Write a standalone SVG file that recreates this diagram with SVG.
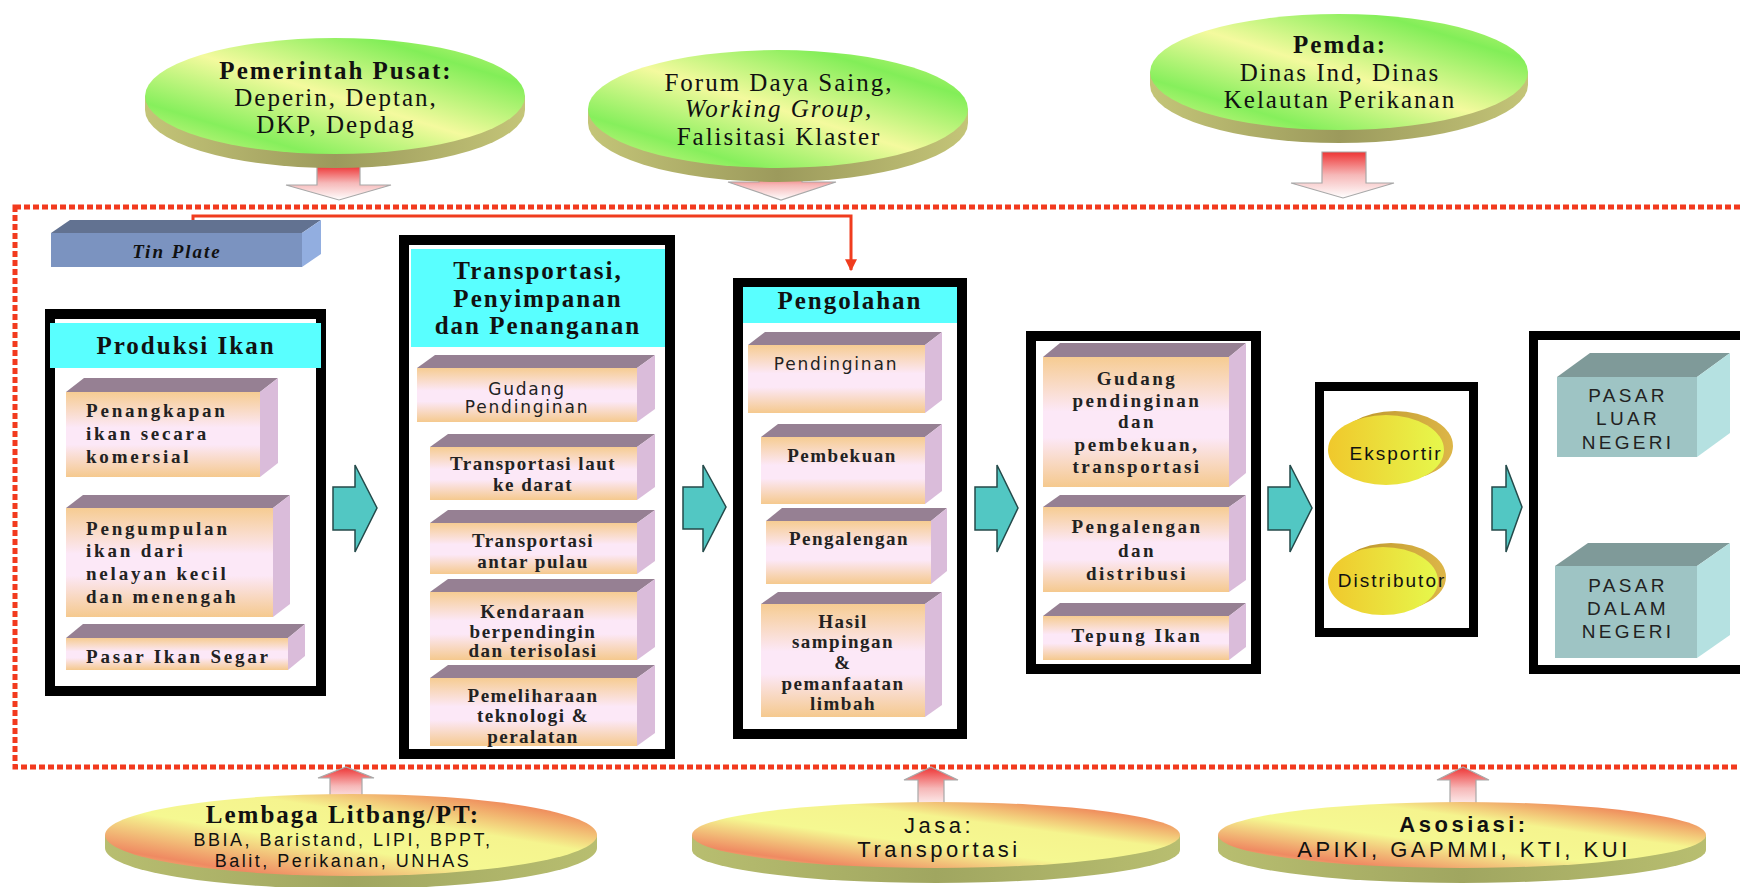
<svg xmlns="http://www.w3.org/2000/svg" width="1740" height="887" viewBox="0 0 1740 887">
<defs>
<linearGradient id="gTop" x1="0" y1="1" x2="1" y2="0">
<stop offset="0" stop-color="#E6F890"/><stop offset="0.22" stop-color="#86EF5C"/><stop offset="0.5" stop-color="#F4FA9E"/><stop offset="0.8" stop-color="#82EE58"/><stop offset="1" stop-color="#D8F684"/>
</linearGradient>
<linearGradient id="gBot" x1="0" y1="1" x2="1" y2="0">
<stop offset="0" stop-color="#F5F48E"/><stop offset="0.17" stop-color="#EF8A62"/><stop offset="0.42" stop-color="#F5F891"/><stop offset="0.64" stop-color="#F5F48E"/><stop offset="0.9" stop-color="#EE7652"/><stop offset="1" stop-color="#F0A070"/>
</linearGradient>
<linearGradient id="gRim" x1="0" y1="0" x2="1" y2="0">
<stop offset="0" stop-color="#C4C578"/><stop offset="0.5" stop-color="#9C9A5C"/><stop offset="1" stop-color="#C4C578"/>
</linearGradient>
<linearGradient id="gRim2" x1="0" y1="0" x2="1" y2="0">
<stop offset="0" stop-color="#B8BE70"/><stop offset="0.5" stop-color="#A0A660"/><stop offset="1" stop-color="#B8BE70"/>
</linearGradient>
<linearGradient id="gBox" x1="0" y1="0" x2="0" y2="1">
<stop offset="0" stop-color="#F6CC92"/><stop offset="0.42" stop-color="#FCE8F7"/><stop offset="0.62" stop-color="#FCE8F7"/><stop offset="1" stop-color="#F5C98E"/>
</linearGradient>
<linearGradient id="gDown" x1="0" y1="0" x2="0" y2="1">
<stop offset="0" stop-color="#EE3434"/><stop offset="0.5" stop-color="#F6B8B8"/><stop offset="1" stop-color="#FFFFFF"/>
</linearGradient>
<linearGradient id="gUp" x1="0" y1="1" x2="0" y2="0">
<stop offset="0" stop-color="#FFFFFF"/><stop offset="0.5" stop-color="#F6B8B8"/><stop offset="1" stop-color="#EE3434"/>
</linearGradient>
<linearGradient id="gYel" x1="0" y1="0" x2="1" y2="0">
<stop offset="0" stop-color="#F0C82C"/><stop offset="1" stop-color="#E6F84C"/>
</linearGradient>
<linearGradient id="gGold" x1="0" y1="0" x2="1" y2="0">
<stop offset="0" stop-color="#B8922A"/><stop offset="1" stop-color="#DDB648"/>
</linearGradient>
<marker id="redHead" viewBox="0 0 10 10" refX="9" refY="5" markerWidth="4" markerHeight="4" orient="auto" markerUnits="strokeWidth">
<path d="M0,0 L10,5 L0,10 Z" fill="#F03C1E"/>
</marker>
</defs>
<style>
.frame{fill:#FFFFFF;stroke:#000000}
.hdrbg{fill:#59FFFF}
.front{fill:url(#gBox)}
.top{fill:#968093}
.side{fill:#DABCDA}
.pfront{fill:#9EC4C4}
.ptop{fill:#7F9A99}
.pside{fill:#B5E1E1}
.teal{fill:#52C7C3;stroke:#244A4A;stroke-width:1.5;stroke-linejoin:miter}
.pink{stroke:#A8A8A8;stroke-width:1.2}
.ser{font-family:"Liberation Serif","Times New Roman",serif;font-size:25px;letter-spacing:2px;fill:#111;text-anchor:middle}
.b{font-weight:bold}
.bx{font-family:"Liberation Serif","Times New Roman",serif;font-weight:bold;font-size:19px;letter-spacing:1.5px;fill:#222;text-anchor:middle}
.bxw{letter-spacing:2.5px}
.bxl{font-family:"Liberation Serif","Times New Roman",serif;font-weight:bold;font-size:19px;letter-spacing:2.8px;fill:#222}
.sbx{font-family:"DejaVu Sans",Verdana,sans-serif;font-size:17px;letter-spacing:1.8px;fill:#222;text-anchor:middle}
.pas{font-family:"Liberation Sans",Arial,sans-serif;font-size:19px;letter-spacing:3.3px;fill:#222;text-anchor:middle}
.ell{font-family:"Liberation Sans",Arial,sans-serif;font-size:19px;letter-spacing:2px;fill:#111;text-anchor:middle}
.bot{font-family:"Liberation Sans",Arial,sans-serif;font-size:22px;letter-spacing:3.5px;fill:#111;text-anchor:middle}
.bot2{font-family:"Liberation Sans",Arial,sans-serif;font-size:18px;letter-spacing:2.5px;fill:#111;text-anchor:middle}
.tin{font-family:"Liberation Serif","Times New Roman",serif;font-weight:bold;font-style:italic;font-size:19px;letter-spacing:2px;fill:#111;text-anchor:middle}
</style>
<rect x="0" y="0" width="1740" height="887" fill="#FFFFFF"/>

<g id="connectors">
<rect x="15" y="207" width="1760" height="560" fill="none" stroke="#F23A1E" stroke-width="5" stroke-dasharray="6 3"/>
<path d="M193,221 V216 H851 V270" fill="none" stroke="#F03C1E" stroke-width="3" marker-end="url(#redHead)"/>
<path class="pink" fill="url(#gDown)" d="M317,166 H360 V185 H391 L339,200 L286,185 H317 Z"/>
<path class="pink" fill="url(#gDown)" d="M759,170 H802 V182 H836 L781,200 L728,182 H759 Z"/>
<path class="pink" fill="url(#gDown)" d="M1322,152 H1366 V183 H1394 L1343,198 L1291,183 H1322 Z"/>
<path class="pink" fill="url(#gUp)" d="M330,805 V778 H318 L346,767 L374,778 H362 V805 Z"/>
<path class="pink" fill="url(#gUp)" d="M918,810 V780 H904 L931,767 L958,780 H944 V810 Z"/>
<path class="pink" fill="url(#gUp)" d="M1450,810 V780 H1437 L1463,767 L1489,780 H1476 V810 Z"/>
<path class="teal" d="M333,487 H355 V465 L377,508 L355,552 V530 H333 Z"/>
<path class="teal" d="M683,487 H703 V465 L726,507 L703,552 V529 H683 Z"/>
<path class="teal" d="M975,487 H997 V465 L1018,508 L997,552 V530 H975 Z"/>
<path class="teal" d="M1268,487 H1290 V465 L1312,508 L1290,552 V530 H1268 Z"/>
<path class="teal" d="M1492,487 H1506 V465 L1522,507 L1506,552 V530 H1492 Z"/>
</g>

<g id="pemerintah">
<path fill="url(#gRim)" d="M145,96 V110 A190,58 0 0 0 525,110 V96 Z"/>
<ellipse cx="335" cy="96" rx="190" ry="58" fill="url(#gTop)"/>
<text class="ser b" x="336" y="79">Pemerintah Pusat:</text>
<text class="ser" x="336" y="106">Deperin, Deptan,</text>
<text class="ser" x="336" y="133">DKP, Depdag</text>
</g>

<g id="forum">
<path fill="url(#gRim)" d="M588,109 V123 A190,59 0 0 0 968,123 V109 Z"/>
<ellipse cx="778" cy="109" rx="190" ry="59" fill="url(#gTop)"/>
<text class="ser" x="779" y="91">Forum Daya Saing,</text>
<text class="ser" x="779" y="117" font-style="italic">Working Group,</text>
<text class="ser" x="779" y="145">Falisitasi Klaster</text>
</g>

<g id="pemda">
<path fill="url(#gRim)" d="M1150,72 V85 A189,58 0 0 0 1528,85 V72 Z"/>
<ellipse cx="1339" cy="72" rx="189" ry="58" fill="url(#gTop)"/>
<text class="ser b" x="1340" y="53">Pemda:</text>
<text class="ser" x="1340" y="81">Dinas Ind, Dinas</text>
<text class="ser" x="1340" y="108">Kelautan Perikanan</text>
</g>

<g id="tinplate">
<polygon points="51,233 70,220 321,220 302,233" fill="#627291"/>
<polygon points="302,233 321,220 321,254 302,267" fill="#92AEE0"/>
<rect x="51" y="233" width="251" height="34" fill="#7B93C0"/>
<text class="tin" x="177" y="258">Tin Plate</text>
</g>

<g id="produksi">
<rect class="frame" x="50" y="314" width="271" height="377" stroke-width="10"/>
<rect class="hdrbg" x="50" y="323" width="271" height="45"/>
<text class="ser b" x="186" y="354">Produksi Ikan</text>
<polygon class="top" points="66,392 84,378 278,378 260,392"/>
<polygon class="side" points="260,392 278,378 278,463 260,477"/>
<rect class="front" x="66" y="392" width="194" height="85"/>
<text class="bxl" x="86" y="417">Penangkapan</text>
<text class="bxl" x="86" y="440">ikan secara</text>
<text class="bxl" x="86" y="463">komersial</text>
<polygon class="top" points="66,508 83,495 290,495 273,508"/>
<polygon class="side" points="273,508 290,495 290,604 273,617"/>
<rect class="front" x="66" y="508" width="207" height="109"/>
<text class="bxl" x="86" y="535">Pengumpulan</text>
<text class="bxl" x="86" y="557">ikan dari</text>
<text class="bxl" x="86" y="580">nelayan kecil</text>
<text class="bxl" x="86" y="603">dan menengah</text>
<polygon class="top" points="66,638 83,624 305,624 288,638"/>
<polygon class="side" points="288,638 305,624 305,656 288,670"/>
<rect class="front" x="66" y="638" width="222" height="32"/>
<text class="bxl" x="86" y="663">Pasar Ikan Segar</text>
</g>

<g id="transportasi">
<rect class="frame" x="404" y="240" width="266" height="514" stroke-width="10"/>
<rect class="hdrbg" x="411" y="249" width="254" height="98"/>
<text class="ser b" x="538" y="279">Transportasi,</text>
<text class="ser b" x="538" y="307">Penyimpanan</text>
<text class="ser b" x="538" y="334">dan Penanganan</text>
<polygon class="top" points="417,368 435,355 655,355 637,368"/>
<polygon class="side" points="637,368 655,355 655,409 637,422"/>
<rect class="front" x="417" y="368" width="220" height="54"/>
<text class="sbx" x="527" y="395">Gudang</text>
<text class="sbx" x="527" y="413">Pendinginan</text>
<polygon class="top" points="430,447 448,434 655,434 637,447"/>
<polygon class="side" points="637,447 655,434 655,487 637,500"/>
<rect class="front" x="430" y="447" width="207" height="53"/>
<text class="bx" x="533" y="470">Transportasi laut</text>
<text class="bx" x="533" y="491">ke darat</text>
<polygon class="top" points="430,523 448,510 655,510 637,523"/>
<polygon class="side" points="637,523 655,510 655,561 637,574"/>
<rect class="front" x="430" y="523" width="207" height="51"/>
<text class="bx" x="533" y="547">Transportasi</text>
<text class="bx" x="533" y="568">antar pulau</text>
<polygon class="top" points="430,592 448,579 655,579 637,592"/>
<polygon class="side" points="637,592 655,579 655,647 637,660"/>
<rect class="front" x="430" y="592" width="207" height="68"/>
<text class="bx" x="533" y="618">Kendaraan</text>
<text class="bx" x="533" y="638">berpendingin</text>
<text class="bx" x="533" y="657">dan terisolasi</text>
<polygon class="top" points="430,678 448,665 655,665 637,678"/>
<polygon class="side" points="637,678 655,665 655,733 637,746"/>
<rect class="front" x="430" y="678" width="207" height="68"/>
<text class="bx" x="533" y="702">Pemeliharaan</text>
<text class="bx" x="533" y="722">teknologi &amp;</text>
<text class="bx" x="533" y="743">peralatan</text>
</g>

<g id="pengolahan">
<rect class="frame" x="738" y="283" width="224" height="451" stroke-width="10"/>
<rect class="hdrbg" x="743" y="287" width="214" height="36"/>
<text class="ser b" x="850" y="309">Pengolahan</text>
<polygon class="top" points="748,345 765,332 942,332 925,345"/>
<polygon class="side" points="925,345 942,332 942,400 925,413"/>
<rect class="front" x="748" y="345" width="177" height="68"/>
<text class="sbx" x="836" y="370">Pendinginan</text>
<polygon class="top" points="761,437 778,424 942,424 925,437"/>
<polygon class="side" points="925,437 942,424 942,491 925,504"/>
<rect class="front" x="761" y="437" width="164" height="67"/>
<text class="bx" x="842" y="462">Pembekuan</text>
<polygon class="top" points="766,521 782,508 947,508 931,521"/>
<polygon class="side" points="931,521 947,508 947,571 931,584"/>
<rect class="front" x="766" y="521" width="165" height="63"/>
<text class="bx" x="849" y="545">Pengalengan</text>
<polygon class="top" points="761,604 778,592 942,592 925,604"/>
<polygon class="side" points="925,604 942,592 942,705 925,717"/>
<rect class="front" x="761" y="604" width="164" height="113"/>
<text class="bx" x="843" y="628">Hasil</text>
<text class="bx" x="843" y="648">sampingan</text>
<text class="bx" x="843" y="669">&amp;</text>
<text class="bx" x="843" y="690">pemanfaatan</text>
<text class="bx" x="843" y="710">limbah</text>
</g>

<g id="distribusi">
<rect class="frame" x="1031" y="336" width="225" height="333" stroke-width="10"/>
<polygon class="top" points="1043,357 1060,343 1246,343 1229,357"/>
<polygon class="side" points="1229,357 1246,343 1246,473 1229,487"/>
<rect class="front" x="1043" y="357" width="186" height="130"/>
<text class="bx bxw" x="1137" y="385">Gudang</text>
<text class="bx bxw" x="1137" y="407">pendinginan</text>
<text class="bx bxw" x="1137" y="428">dan</text>
<text class="bx bxw" x="1137" y="451">pembekuan,</text>
<text class="bx bxw" x="1137" y="473">transportasi</text>
<polygon class="top" points="1043,507 1060,495 1246,495 1229,507"/>
<polygon class="side" points="1229,507 1246,495 1246,580 1229,592"/>
<rect class="front" x="1043" y="507" width="186" height="85"/>
<text class="bx bxw" x="1137" y="533">Pengalengan</text>
<text class="bx bxw" x="1137" y="557">dan</text>
<text class="bx bxw" x="1137" y="580">distribusi</text>
<polygon class="top" points="1043,616 1060,603 1246,603 1229,616"/>
<polygon class="side" points="1229,616 1246,603 1246,647 1229,660"/>
<rect class="front" x="1043" y="616" width="186" height="44"/>
<text class="bx bxw" x="1137" y="642">Tepung Ikan</text>
</g>

<g id="pelaku">
<rect class="frame" x="1319.5" y="386.5" width="154" height="246" stroke-width="9"/>
<ellipse cx="1395" cy="446" rx="58" ry="35" fill="url(#gGold)"/>
<ellipse cx="1386" cy="450" rx="58" ry="35" fill="url(#gYel)"/>
<text class="ell" x="1396" y="460">Eksportir</text>
<ellipse cx="1391" cy="577" rx="55" ry="34" fill="url(#gGold)"/>
<ellipse cx="1383" cy="581" rx="55" ry="34" fill="url(#gYel)"/>
<text class="ell" x="1392" y="587">Distributor</text>
</g>

<g id="pasar">
<rect class="frame" x="1533.5" y="335.5" width="250" height="334" stroke-width="9"/>
<polygon class="ptop" points="1557,377 1590,353 1730,353 1697,377"/>
<polygon class="pside" points="1697,377 1730,353 1730,433 1697,457"/>
<rect class="pfront" x="1557" y="377" width="140" height="80"/>
<text class="pas" x="1628" y="402">PASAR</text>
<text class="pas" x="1628" y="425">LUAR</text>
<text class="pas" x="1628" y="449">NEGERI</text>
<polygon class="ptop" points="1555,566 1588,543 1730,543 1697,566"/>
<polygon class="pside" points="1697,566 1730,543 1730,635 1697,658"/>
<rect class="pfront" x="1555" y="566" width="142" height="92"/>
<text class="pas" x="1628" y="592">PASAR</text>
<text class="pas" x="1628" y="615">DALAM</text>
<text class="pas" x="1628" y="638">NEGERI</text>
</g>

<g id="litbang">
<path fill="url(#gRim2)" d="M105,835 V848 A246,41 0 0 0 597,848 V835 Z"/>
<ellipse cx="351" cy="835" rx="246" ry="41" fill="url(#gBot)"/>
<text class="ser b" x="343" y="823">Lembaga Litbang/PT:</text>
<text class="bot2" x="343" y="846">BBIA, Baristand, LIPI, BPPT,</text>
<text class="bot2" x="343" y="867">Balit, Perikanan, UNHAS</text>
</g>

<g id="jasa">
<path fill="url(#gRim2)" d="M692,835 V850 A244,33 0 0 0 1180,850 V835 Z"/>
<ellipse cx="936" cy="835" rx="244" ry="33" fill="url(#gBot)"/>
<text class="bot" x="939" y="833">Jasa:</text>
<text class="bot" x="939" y="857">Transportasi</text>
</g>

<g id="asosiasi">
<path fill="url(#gRim2)" d="M1218,835 V850 A244,33 0 0 0 1706,850 V835 Z"/>
<ellipse cx="1462" cy="835" rx="244" ry="33" fill="url(#gBot)"/>
<text class="bot b" x="1464" y="832">Asosiasi:</text>
<text class="bot" x="1464" y="857">APIKI, GAPMMI, KTI, KUI</text>
</g>
</svg>
